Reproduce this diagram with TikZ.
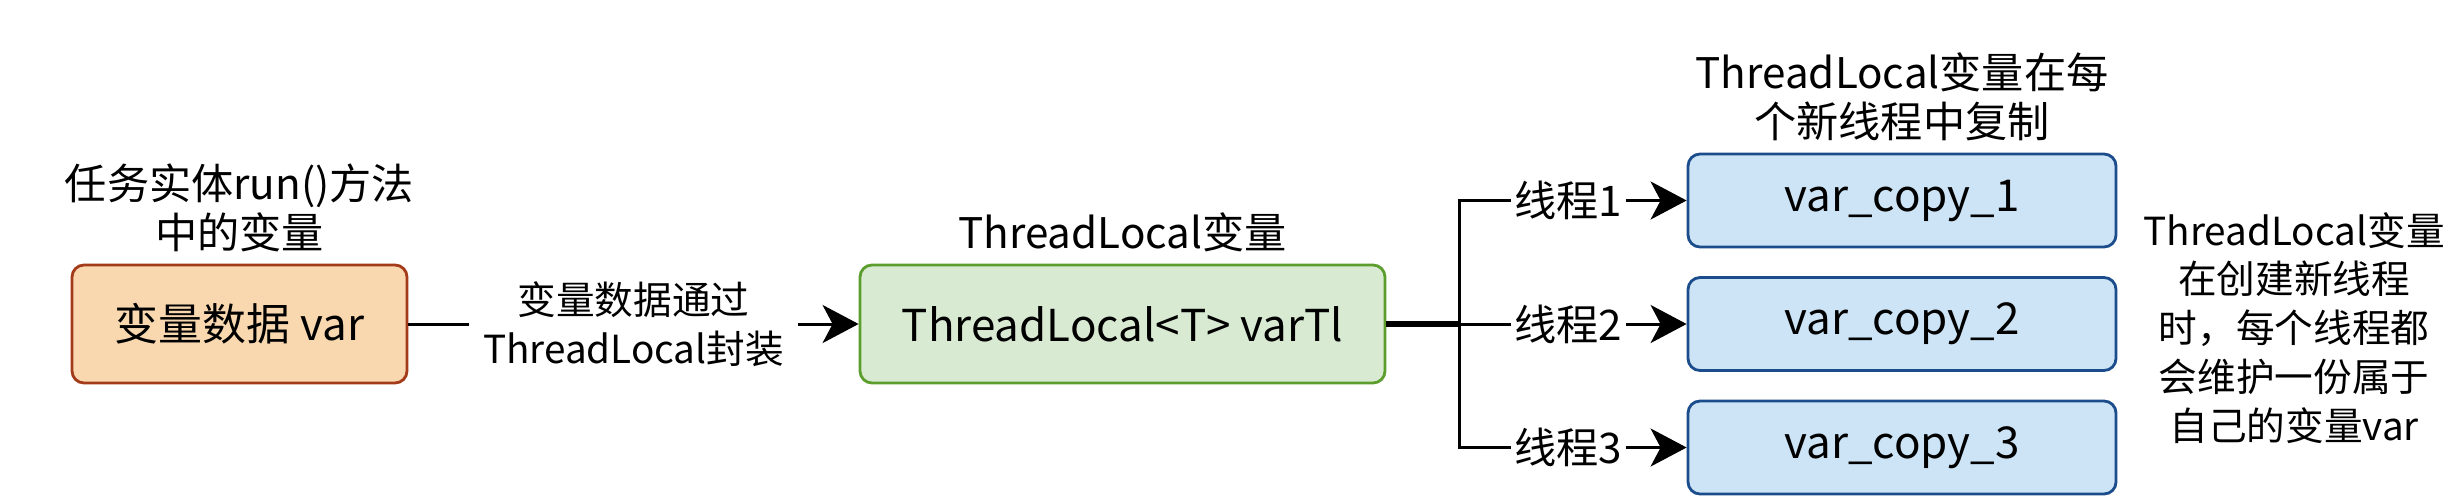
\documentclass[tikz,border=0pt]{standalone}
\usepackage{fontspec}
\setmainfont{Noto Sans CJK SC}
\usepackage{tikz}
\usetikzlibrary{arrows.meta}
\usetikzlibrary{positioning}
\definecolor{varfill}{HTML}{F9D8B0}
\definecolor{vardraw}{HTML}{A33A1A}
\definecolor{tlfill}{HTML}{D9EAD3}
\definecolor{tldraw}{HTML}{5B9E2D}
\definecolor{copyfill}{HTML}{CCE4F5}
\definecolor{copydraw}{HTML}{1B4C8C}
\tikzset{
    roundbox/.style = {draw,rounded corners=0.12cm,line width=0.8pt,minimum height=1.18cm,font=\fontsize{12.5}{15}\selectfont},
    databox/.style = {roundbox,fill=varfill,draw=vardraw,minimum width=3.35cm},
    tlbox/.style = {roundbox,fill=tlfill,draw=tldraw,minimum width=5.25cm},
    copybox/.style = {roundbox,fill=copyfill,draw=copydraw,minimum width=4.28cm,minimum height=0.93cm},
    note/.style = {align=center,font=\fontsize{12}{14}\selectfont,inner sep=1pt},
    smallnote/.style = {note,font=\fontsize{11}{13.9}\selectfont},
    flow/.style = {line width=0.85pt,-{Stealth[length=0.36cm,width=0.38cm,inset=0.1cm]}},
    trunk/.style = {line width=1.7pt}
}

\begin{document}
\begin{tikzpicture}
        \newcommand*\copysep{1.235}
        \useasboundingbox (0,0) rectangle (24.6,-5.02);
        % Variable and its wrapper
        \path (2.395,-3.24) node[
                label={[note,label distance=2pt]above:{任务实体run()方法\\中的变量}},
                databox
            ] (var) {变量数据 var}
            to +(8.83,0) node[
                label={[note,label distance=2pt]above:{ThreadLocal变量}},
                tlbox
            ] (tl) {ThreadLocal<T> varTl}
        ;
        % Copies
        \path (19.02,-3.24) node[copybox] (c2) {var\_copy\_2}
            to +(0,\copysep) node[
                label={[note,label distance=2pt]above:{ThreadLocal变量在每\\个新线程中复制}},
                copybox
            ] (c1) {var\_copy\_1}
            (c2) to +(0,-\copysep) node[copybox] (c3) {var\_copy\_3}
        ;
        \node[smallnote,right=0.22cm of c2,yshift=-0.04cm] (desc)
            {ThreadLocal变量\\在创建新线程\\时，每个线程都\\会维护一份属于\\自己的变量var};
        % Fork
        \coordinate[right=0.73cm of tl.east] (fork);
        \draw[flow] (var) -- node[smallnote,fill=white,inner xsep=4pt,pos=0.5] (wrap)
            {变量数据通过\\ThreadLocal封装} (tl);
        \draw[trunk] (tl) to (fork);
        \foreach \i in {1,2,3}
            \draw[flow] (fork) |- node[note,fill=white,pos=0.74] (t\i) {线程\i} (c\i);
    \end{tikzpicture}
\end{document}
